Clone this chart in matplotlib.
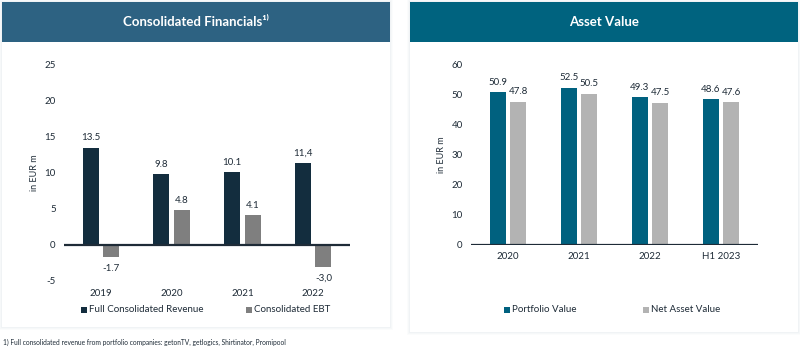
import matplotlib.pyplot as plt
from matplotlib.patches import Rectangle

plt.rcParams["font.family"] = ["Lato", "DejaVu Sans"]
plt.rcParams["axes.unicode_minus"] = False

# ---------------------------------------------------------------- data
fin_years = ["2019", "2020", "2021", "2022"]
revenue = [13.5, 9.8, 10.1, 11.4]
ebt = [-1.7, 4.8, 4.1, -3.0]
revenue_labels = ["13.5", "9.8", "10.1", "11,4"]
ebt_labels = ["-1.7", "4.8", "4.1", "-3,0"]

asset_periods = ["2020", "2021", "2022", "H1 2023"]
portfolio_value = [50.9, 52.5, 49.3, 48.6]
net_asset_value = [47.8, 50.5, 47.5, 47.6]

# ---------------------------------------------------------------- style
W, H = 800, 350
TEXT = "#1e2b37"
C_REV = "#132d3e"
C_EBT = "#7f7f7f"
C_PV = "#00617f"
C_NAV = "#b3b3b3"
HDR_L = "#2d6282"
HDR_R = "#00637f"

fig = plt.figure(figsize=(8, 3.5), dpi=100)
fig.patch.set_facecolor("white")


def fx(px):
    return px / W


def fy(py):
    return 1 - py / H


def panel(x0, x1, y0, y1, hdr_color, title):
    # soft shadow + white card
    for i, a in enumerate([0.05, 0.04, 0.03]):
        d = i + 1
        fig.patches.append(Rectangle((fx(x0 - d), fy(y1 + d)), fx(x1 - x0 + 2 * d),
                                     (y1 - y0 + 2 * d) / H, transform=fig.transFigure,
                                     facecolor="#8fa4b5", alpha=a, edgecolor="none", zorder=-3))
    fig.patches.append(Rectangle((fx(x0), fy(y1)), fx(x1 - x0), (y1 - y0) / H,
                                 transform=fig.transFigure, facecolor="white",
                                 edgecolor="none", zorder=-2))
    fig.patches.append(Rectangle((fx(x0), fy(42)), fx(x1 - x0), 40 / H,
                                 transform=fig.transFigure, facecolor=hdr_color,
                                 edgecolor="none", zorder=-1))
    fig.text(fx((x0 + x1) / 2), fy(22), title, color="white", fontsize=9.5,
             fontweight="bold", ha="center", va="center")


panel(2, 390, 2, 327, HDR_L, "Consolidated Financials\u00b9\u207e")
panel(410, 798, 2, 332, HDR_R, "Asset Value")

OFF = 0.145
BW = 0.225


def setup(ax, cats, ylim, yticks):
    ax.set_zorder(5)
    ax.set_facecolor("none")
    for s in ax.spines.values():
        s.set_visible(False)
    ax.set_xlim(-0.52, 3.52)
    ax.set_ylim(*ylim)
    ax.set_yticks(yticks)
    ax.set_xticks(range(len(cats)))
    ax.set_xticklabels(cats)
    ax.tick_params(axis="both", length=0, labelsize=7, colors=TEXT)
    ax.tick_params(axis="y", pad=6)
    ax.axhline(0, color=TEXT, linewidth=1.6, zorder=3)
    ax.set_ylabel("in EUR m", fontsize=6.5, color=TEXT)
    ax.yaxis.set_label_coords(-0.088, 0.5)


# ---------------------------------------------------------------- left
ax1 = fig.add_axes([fx(64), fy(281), fx(350 - 64), (281 - 65) / H])
setup(ax1, fin_years, (-5, 25), [-5, 0, 5, 10, 15, 20, 25])
ax1.tick_params(axis="x", pad=6)
x = range(len(fin_years))
ax1.bar([i - OFF for i in x], revenue, BW, color=C_REV, zorder=2)
ax1.bar([i + OFF for i in x], ebt, BW, color=C_EBT, zorder=2)
for i in x:
    ax1.annotate(revenue_labels[i], (i - OFF, revenue[i]), xytext=(0, 4),
                 textcoords="offset points", ha="center", va="bottom",
                 fontsize=7, color=TEXT)
    off = 4 if ebt[i] >= 0 else -5
    ax1.annotate(ebt_labels[i], (i + OFF, ebt[i]), xytext=(0, off),
                 textcoords="offset points", ha="center",
                 va="bottom" if ebt[i] >= 0 else "top", fontsize=7, color=TEXT)

# ---------------------------------------------------------------- right
ax2 = fig.add_axes([fx(471), fy(245), fx(758 - 471), (245 - 65) / H])
setup(ax2, asset_periods, (0, 60), [0, 10, 20, 30, 40, 50, 60])
ax2.tick_params(axis="x", pad=5)
x = range(len(asset_periods))
ax2.bar([i - OFF for i in x], portfolio_value, BW, color=C_PV, zorder=2)
ax2.bar([i + OFF for i in x], net_asset_value, BW, color=C_NAV, zorder=2)
for i in x:
    ax2.annotate(f"{portfolio_value[i]:.1f}", (i - OFF, portfolio_value[i]),
                 xytext=(0, 4), textcoords="offset points", ha="center",
                 va="bottom", fontsize=7, color=TEXT)
    ax2.annotate(f"{net_asset_value[i]:.1f}", (i + OFF, net_asset_value[i]),
                 xytext=(0, 4), textcoords="offset points", ha="center",
                 va="bottom", fontsize=7, color=TEXT)


# ---------------------------------------------------------------- legends
def legend_item(px, py, color, label):
    fig.patches.append(Rectangle((fx(px), fy(py + 3)), fx(6), 6 / H,
                                 transform=fig.transFigure, facecolor=color,
                                 edgecolor="none", zorder=2))
    fig.text(fx(px + 8), fy(py), label, fontsize=7, color=TEXT,
             ha="left", va="center")


legend_item(81, 310, C_REV, "Full Consolidated Revenue")
legend_item(246, 310, C_EBT, "Consolidated EBT")
legend_item(504, 310, C_PV, "Portfolio Value")
legend_item(643, 310, C_NAV, "Net Asset Value")

fig.text(fx(3), fy(342),
         "1) Full consolidated revenue from portfolio companies: getonTV, getlogics, Shirtinator, Promipool",
         fontsize=4.8, color=TEXT, ha="left", va="center")

fig.savefig("out.png", dpi=100)
